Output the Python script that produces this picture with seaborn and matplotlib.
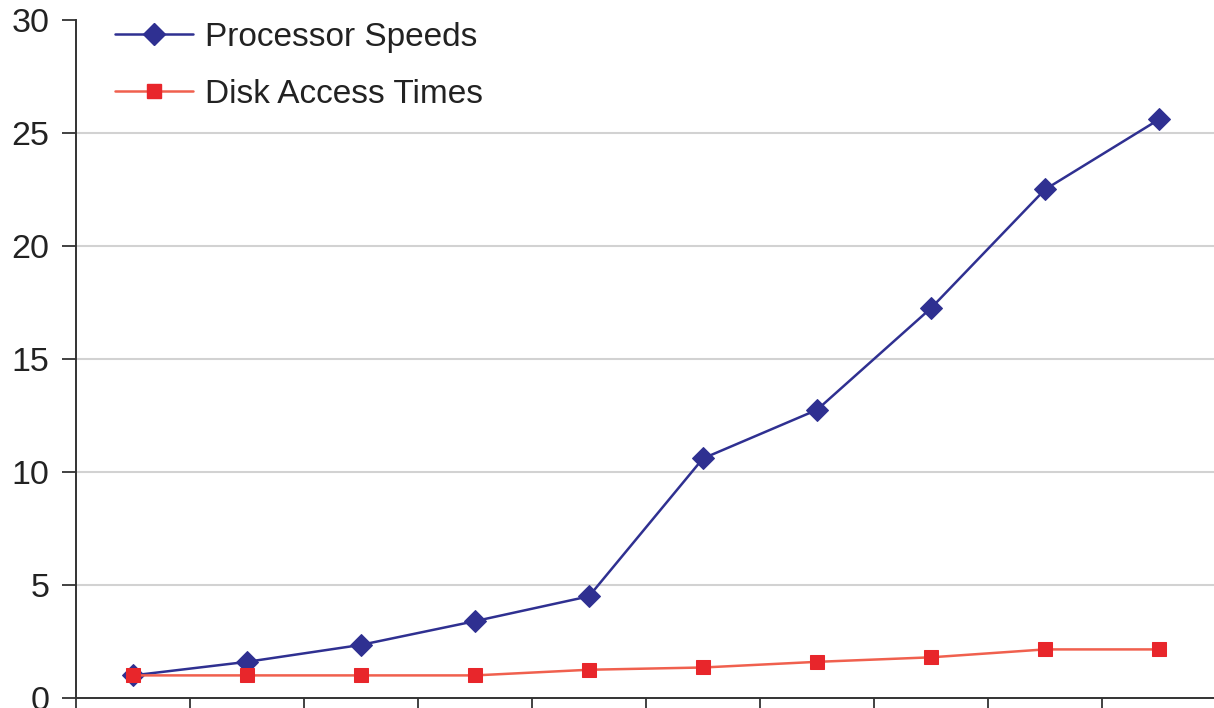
import matplotlib
matplotlib.use("Agg")
import matplotlib.pyplot as plt
import seaborn as sns
import pandas as pd
import numpy as np
from matplotlib.lines import Line2D

# Relative performance growth over ten periods
periods = list(range(10))
processor_speeds = [1.0, 1.6, 2.35, 3.4, 4.5, 10.6, 12.75, 17.25, 22.5, 25.6]
disk_access_times = [1.0, 1.0, 1.0, 1.0, 1.25, 1.35, 1.6, 1.8, 2.15, 2.15]
series_names = ["Processor Speeds", "Disk Access Times"]
y_ticks = [0, 5, 10, 15, 20, 25, 30]

df = pd.DataFrame({
    "period": periods * 2,
    "value": processor_speeds + disk_access_times,
    "series": [series_names[0]] * 10 + [series_names[1]] * 10,
})

sns.set_theme(style="white")
plt.rcParams["font.family"] = ["Liberation Sans", "DejaVu Sans"]

fig = plt.figure(figsize=(12.14, 7.08), dpi=100)
ax = fig.add_axes([76 / 1214, 10 / 708, 1140 / 1214, 678 / 708])

blue = "#2F3091"
red_marker = "#E8262B"
red_line = "#F0604E"

sns.lineplot(
    data=df, x="period", y="value", hue="series", style="series",
    palette={series_names[0]: blue, series_names[1]: red_line},
    markers={series_names[0]: "D", series_names[1]: "s"},
    dashes=False, linewidth=1.8, markersize=11, ax=ax, legend=False,
)
# stronger red fill for the disk markers
lines = ax.get_lines()
lines[0].set_markerfacecolor(blue)
lines[0].set_markeredgecolor(blue)
lines[1].set_markerfacecolor(red_marker)
lines[1].set_markeredgecolor(red_marker)
lines[1].set_markersize(9.5)

ax.set_xlim(-0.5, 9.5)
ax.set_ylim(0, 30)
ax.set_yticks(y_ticks)
ax.set_xticks(np.arange(-0.5, 10.0, 1.0))
ax.set_xticklabels([])
ax.set_xlabel("")
ax.set_ylabel("")
ax.tick_params(axis="y", labelsize=24.5, length=10, width=1.3, color="#333333",
               left=True, pad=9, labelcolor="#222222")
ax.tick_params(axis="x", length=10, width=1.3, color="#333333", bottom=True)

for y in y_ticks[1:-1]:
    ax.axhline(y, color="#D2D2D2", linewidth=1.5, zorder=0)

for side in ["top", "right"]:
    ax.spines[side].set_visible(False)
for side in ["left", "bottom"]:
    ax.spines[side].set_color("#333333")
    ax.spines[side].set_linewidth(1.4)

handles = [
    Line2D([], [], color=blue, marker="D", markersize=11, linewidth=1.8),
    Line2D([], [], color=red_line, marker="s", markersize=9.5, linewidth=1.8,
           markerfacecolor=red_marker, markeredgecolor=red_marker),
]
ax.legend(handles, series_names, loc="upper left", frameon=False,
          fontsize=24, handlelength=2.35, labelspacing=0.78,
          bbox_to_anchor=(0.034, 0.997), borderaxespad=0, borderpad=0,
          handletextpad=0.36, labelcolor="#222222")

fig.savefig("out.png", dpi=100)
